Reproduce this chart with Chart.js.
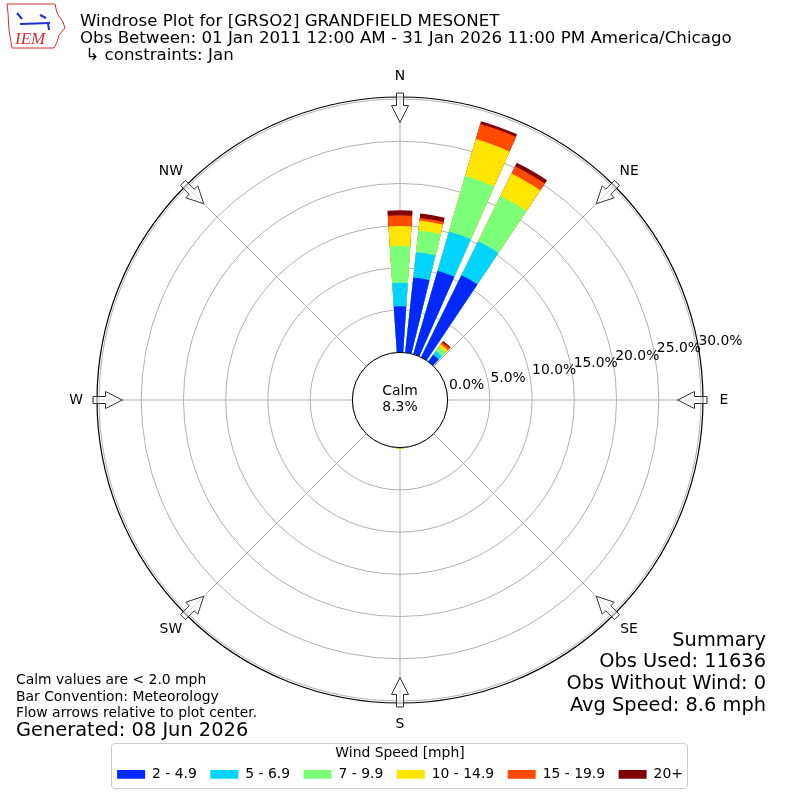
<!DOCTYPE html>
<html>
<head>
<meta charset="utf-8">
<script src="https://cdn.jsdelivr.net/npm/chart.js@4.4.1/dist/chart.umd.min.js"></script>
<style>
  html, body { margin: 0; padding: 0; background: #fff; }
  #caixa { width: 800px; height: 800px; position: relative; }
</style>
</head>
<body>
<div id="caixa"><canvas id="graficoRosa"></canvas></div>
<script>
// direcoes (graus a partir do norte, sentido horario)
const direcoes = [0, 10, 20, 30, 40, 50, 60, 70, 80, 90, 100, 110, 120, 130, 140, 150, 160, 170,
                  180, 190, 200, 210, 220, 230, 240, 250, 260, 270, 280, 290, 300, 310, 320, 330, 340, 350];

const faixas = ['2 - 4.9', '5 - 6.9', '7 - 9.9', '10 - 14.9', '15 - 19.9', '20+'];
const cores = ['#0028ff', '#00d4ff', '#7cff79', '#ffe600', '#ff4a00', '#800000'];

// % das observacoes por direcao, uma lista por faixa de velocidade
const faixa1 = [5.47, 8.96, 10.30, 10.83, 1.00, 0, 0, 0, 0, 0, 0, 0, 0, 0, 0, 0, 0, 0,
                0, 0, 0, 0, 0, 0, 0, 0, 0, 0, 0, 0, 0, 0, 0, 0, 0, 0];
const faixa2 = [2.76, 3.01, 4.85, 4.47, 0.55, 0, 0, 0, 0, 0, 0, 0, 0, 0, 0, 0, 0, 0,
                0, 0, 0, 0, 0, 0, 0, 0, 0, 0, 0, 0, 0, 0, 0, 0, 0, 0];
const faixa3 = [4.37, 2.59, 6.85, 5.99, 0.60, 0, 0, 0, 0, 0, 0, 0, 0, 0, 0, 0, 0, 0,
                0.08, 0, 0, 0, 0, 0, 0, 0, 0, 0, 0, 0, 0, 0, 0, 0, 0, 0];
const faixa4 = [2.36, 1.17, 4.53, 2.96, 0.40, 0, 0, 0, 0, 0, 0, 0, 0, 0, 0, 0, 0, 0,
                0.04, 0, 0, 0, 0, 0, 0, 0, 0, 0, 0, 0, 0, 0, 0, 0, 0, 0];
const faixa5 = [1.27, 0.32, 1.87, 0.95, 0.30, 0, 0, 0, 0, 0, 0, 0, 0, 0, 0, 0, 0, 0,
                0, 0, 0, 0, 0, 0, 0, 0, 0, 0, 0, 0, 0, 0, 0, 0, 0, 0];
const faixa6 = [0.59, 0.52, 0.34, 0.47, 0.15, 0, 0, 0, 0, 0, 0, 0, 0, 0, 0, 0, 0, 0,
                0, 0, 0, 0, 0, 0, 0, 0, 0, 0, 0, 0, 0, 0, 0, 0, 0, 0];

const ticksR = [0, 5, 10, 15, 20, 25, 30];
const rotulosTicks = ['0.0%', '5.0%', '10.0%', '15.0%', '20.0%', '25.0%', '30.0%'];

const pontosCardeais = ['N', 'NE', 'E', 'SE', 'S', 'SW', 'W', 'NW'];
const angulosCardeais = [0, 45, 90, 135, 180, 225, 270, 315];

const calmo = '8.3%';
const titulo = ['Windrose Plot for [GRSO2] GRANDFIELD MESONET',
                'Obs Between: 01 Jan 2011 12:00 AM - 31 Jan 2026 11:00 PM America/Chicago',
                ' \u21b3 constraints: Jan'];
const notas = ['Calm values are < 2.0 mph', 'Bar Convention: Meteorology', 'Flow arrows relative to plot center.'];
const gerado = 'Generated: 08 Jun 2026';
const resumo = ['Summary', 'Obs Used: 11636', 'Obs Without Wind: 0', 'Avg Speed: 8.6 mph'];

const fonte = '"DejaVu Sans", sans-serif';
const pequena = 13.9;
const grande = 19.4;
const largura = 7.6; // graus de cada barra
const vao = 2.4;     // espaco entre barras

// monta os datasets acumulados (cada barra intercalada com um vao vazio)
const series = [faixa1, faixa2, faixa3, faixa4, faixa5, faixa6];
let rotulos = [];
direcoes.forEach(d => { rotulos.push(d + '\u00b0'); rotulos.push(''); });

let acumulado = direcoes.map(() => 0);
const conjuntos = series.map((s, k) => {
  acumulado = acumulado.map((v, i) => v + s[i]);
  const dados = [];
  const fundo = [];
  acumulado.forEach(v => {
    dados.push(v); fundo.push(cores[k]);
    dados.push(0); fundo.push('rgba(0,0,0,0)');
  });
  return {
    label: faixas[k],
    data: dados,
    backgroundColor: fundo,
    borderWidth: 0,
    angle: (c) => (c.dataIndex % 2 === 0 ? largura : vao)
  };
});

function ponto(escala, graus, raio) {
  const a = (graus - 90) * Math.PI / 180;
  return [escala.xCenter + raio * Math.cos(a), escala.yCenter + raio * Math.sin(a)];
}

const pluginRosa = {
  id: 'rosa',
  beforeDatasetsDraw(chart) {
    const ctx = chart.ctx;
    const r = chart.scales.r;
    const r0 = r.getDistanceFromCenterForValue(0);
    const r30 = r.getDistanceFromCenterForValue(30);
    ctx.save();
    ctx.strokeStyle = '#b0b0b0';
    ctx.lineWidth = 1;
    angulosCardeais.forEach(g => {
      const p0 = ponto(r, g, r0), p1 = ponto(r, g, r30);
      ctx.beginPath(); ctx.moveTo(p0[0], p0[1]); ctx.lineTo(p1[0], p1[1]); ctx.stroke();
    });
    ctx.restore();
  },
  afterDatasetsDraw(chart) {
    const ctx = chart.ctx;
    const r = chart.scales.r;
    const cx = r.xCenter, cy = r.yCenter;
    const r0 = r.getDistanceFromCenterForValue(0);
    const r30 = r.getDistanceFromCenterForValue(30);
    ctx.save();

    // moldura externa
    ctx.strokeStyle = '#000';
    ctx.lineWidth = 1.2;
    ctx.beginPath(); ctx.arc(cx, cy, r30 + 2, 0, Math.PI * 2); ctx.stroke();

    // circulo de calmaria
    ctx.lineWidth = 1;
    ctx.fillStyle = '#fff';
    ctx.beginPath(); ctx.arc(cx, cy, r0, 0, Math.PI * 2); ctx.fill(); ctx.stroke();
    ctx.fillStyle = '#000';
    ctx.font = pequena + 'px ' + fonte;
    ctx.textAlign = 'center';
    ctx.textBaseline = 'middle';
    ctx.fillText('Calm', cx, cy - 9);
    ctx.fillText(calmo, cx, cy + 7);

    // setas de fluxo
    angulosCardeais.forEach(g => {
      const a = (g - 90) * Math.PI / 180;
      const u = [Math.cos(a), Math.sin(a)], p = [-Math.sin(a), Math.cos(a)];
      const pt = (rad, lado) => [cx + rad * u[0] + lado * p[0], cy + rad * u[1] + lado * p[1]];
      const pts = [pt(r30 + 6, 3.5), pt(r30 - 6.5, 3.5), pt(r30 - 6.5, 8.5), pt(r30 - 23.5, 0),
                   pt(r30 - 6.5, -8.5), pt(r30 - 6.5, -3.5), pt(r30 + 6, -3.5)];
      ctx.beginPath();
      pts.forEach((q, i) => (i ? ctx.lineTo(q[0], q[1]) : ctx.moveTo(q[0], q[1])));
      ctx.closePath();
      ctx.fillStyle = 'rgba(255,255,255,0.5)';
      ctx.fill();
      ctx.strokeStyle = '#333';
      ctx.stroke();
    });

    // pontos cardeais
    ctx.fillStyle = '#000';
    ctx.font = pequena + 'px ' + fonte;
    pontosCardeais.forEach((t, i) => {
      const q = ponto(r, angulosCardeais[i], r30 + 23);
      ctx.fillText(t, q[0], q[1]);
    });

    // rotulos radiais
    ctx.textAlign = 'left';
    ctx.textBaseline = 'bottom';
    ticksR.forEach((v, i) => {
      const q = ponto(r, 80, r.getDistanceFromCenterForValue(v));
      ctx.fillText(rotulosTicks[i], q[0] + 2, q[1] + 0.5);
    });
    ctx.restore();
  },
  afterDraw(chart) {
    const ctx = chart.ctx;
    ctx.save();

    // logo simplificado
    ctx.strokeStyle = '#d83030';
    ctx.lineWidth = 1;
    ctx.beginPath();
    [[7, 4], [55, 4], [57, 13], [63, 22], [65, 28], [59, 35], [57, 42], [54, 48], [12, 48], [9, 30], [8, 13]]
      .forEach((q, i) => (i ? ctx.lineTo(q[0], q[1]) : ctx.moveTo(q[0], q[1])));
    ctx.closePath(); ctx.stroke();
    ctx.strokeStyle = '#1a30d8';
    ctx.lineWidth = 2;
    ctx.beginPath(); ctx.moveTo(20, 24); ctx.lineTo(50, 23); ctx.stroke();
    ctx.beginPath(); ctx.moveTo(17, 13); ctx.lineTo(22, 19); ctx.stroke();
    ctx.beginPath(); ctx.moveTo(40, 15); ctx.lineTo(46, 18); ctx.stroke();
    ctx.beginPath(); ctx.moveTo(48, 23); ctx.lineTo(49, 30); ctx.stroke();
    ctx.fillStyle = '#d42a2a';
    ctx.font = 'italic 17px "Liberation Serif", serif';
    ctx.textAlign = 'left';
    ctx.textBaseline = 'alphabetic';
    ctx.fillText('IEM', 15, 44);

    // titulo
    ctx.fillStyle = '#000';
    ctx.font = '16.67px ' + fonte;
    titulo.forEach((t, i) => ctx.fillText(t, 80, 26 + i * 17));

    // notas no canto inferior esquerdo
    ctx.font = pequena + 'px ' + fonte;
    notas.forEach((t, i) => ctx.fillText(t, 16, 684 + i * 16.5));
    ctx.font = grande + 'px ' + fonte;
    ctx.fillText(gerado, 16, 736);

    // resumo no canto inferior direito
    ctx.textAlign = 'right';
    resumo.forEach((t, i) => ctx.fillText(t, 766, 645.7 + i * 21.6));

    // moldura da legenda
    const leg = chart.legend;
    const hb = leg.legendHitBoxes;
    if (hb && hb.length) {
      const x0 = hb[0].left - 6;
      const x1 = hb[hb.length - 1].left + hb[hb.length - 1].width + 4;
      const y0 = leg.top + 0.5;
      ctx.strokeStyle = '#cccccc';
      ctx.lineWidth = 1;
      ctx.beginPath();
      ctx.roundRect(Math.round(x0) + 0.5, Math.round(y0) + 0.5, Math.round(x1 - x0), 45, 3);
      ctx.stroke();
    }
    ctx.restore();
  }
};

Chart.defaults.font.family = fonte;
Chart.defaults.color = '#000';

const ctx = document.getElementById('graficoRosa');

new Chart(ctx, {
  type: 'polarArea',
  data: {
    labels: rotulos,
    datasets: conjuntos
  },
  options: {
    responsive: true,
    maintainAspectRatio: false,
    animation: false,
    events: [],
    devicePixelRatio: 1,
    startAngle: -largura / 2,
    layout: { padding: { top: 58, left: 99, right: 99, bottom: 8.65 } },
    scales: {
      r: {
        min: -5.64,
        max: 30,
        startAngle: -largura / 2,
        afterBuildTicks: (s) => { s.ticks = ticksR.map(v => ({ value: v })); },
        ticks: { display: false },
        grid: { circular: true, color: '#b0b0b0', lineWidth: 1 },
        angleLines: { display: false },
        pointLabels: { display: false }
      }
    },
    plugins: {
      tooltip: { enabled: false },
      legend: {
        position: 'bottom',
        onClick: null,
        title: {
          display: true,
          text: 'Wind Speed [mph]',
          font: { size: pequena },
          padding: { top: 4, bottom: -8.78 }
        },
        labels: {
          boxWidth: 28,
          boxHeight: 8.7,
          padding: 13.5,
          font: { size: pequena },
          generateLabels: (chart) => chart.data.datasets.map((ds, i) => ({
            text: ds.label,
            fillStyle: cores[i],
            strokeStyle: cores[i],
            lineWidth: 0,
            hidden: false,
            datasetIndex: i
          }))
        }
      }
    }
  },
  plugins: [pluginRosa]
});
</script>
</body>
</html>
